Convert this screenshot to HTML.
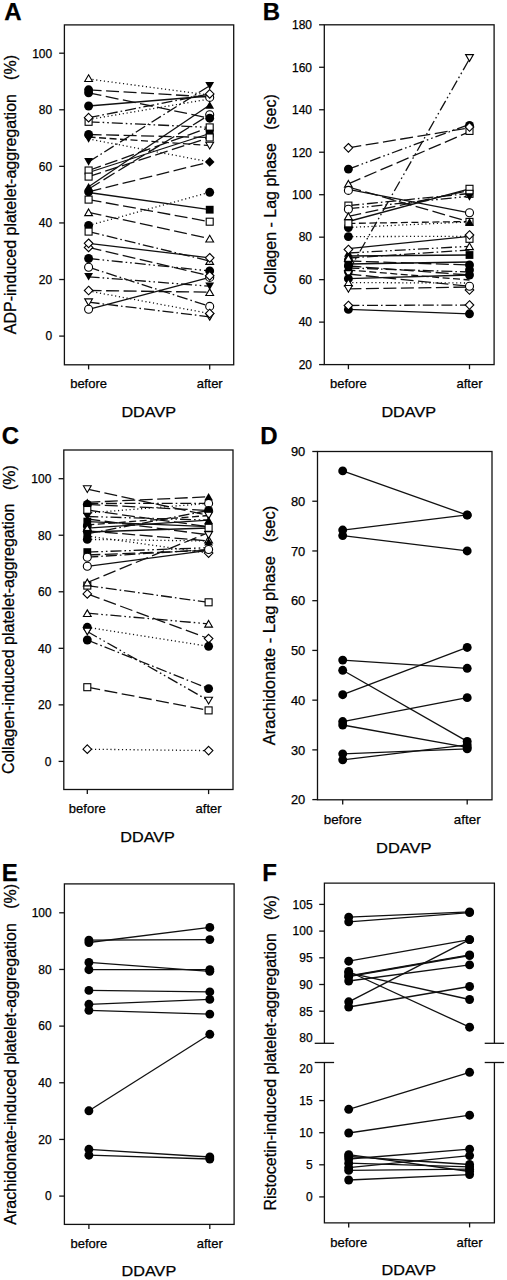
<!DOCTYPE html><html><head><meta charset="utf-8"><style>html,body{margin:0;padding:0;background:#fff;}svg{display:block;}text{font-family:"Liberation Sans", sans-serif;stroke:#000;stroke-width:0.25px;}</style></head><body>
<svg width="507" height="1280" viewBox="0 0 507 1280" fill="#000">
<rect x="64.4" y="24.9" width="169.30" height="339.90" fill="none" stroke="#111" stroke-width="1.3"/>
<line x1="59.20" y1="336.10" x2="64.40" y2="336.10" stroke="#111" stroke-width="1.3"/>
<text x="52.20" y="340.40" font-size="12" text-anchor="end" font-weight="normal">0</text>
<line x1="59.20" y1="279.52" x2="64.40" y2="279.52" stroke="#111" stroke-width="1.3"/>
<text x="52.20" y="283.82" font-size="12" text-anchor="end" font-weight="normal">20</text>
<line x1="59.20" y1="222.94" x2="64.40" y2="222.94" stroke="#111" stroke-width="1.3"/>
<text x="52.20" y="227.24" font-size="12" text-anchor="end" font-weight="normal">40</text>
<line x1="59.20" y1="166.36" x2="64.40" y2="166.36" stroke="#111" stroke-width="1.3"/>
<text x="52.20" y="170.66" font-size="12" text-anchor="end" font-weight="normal">60</text>
<line x1="59.20" y1="109.78" x2="64.40" y2="109.78" stroke="#111" stroke-width="1.3"/>
<text x="52.20" y="114.08" font-size="12" text-anchor="end" font-weight="normal">80</text>
<line x1="59.20" y1="53.20" x2="64.40" y2="53.20" stroke="#111" stroke-width="1.3"/>
<text x="52.20" y="57.50" font-size="12" text-anchor="end" font-weight="normal">100</text>
<line x1="88.60" y1="364.80" x2="88.60" y2="369.40" stroke="#111" stroke-width="1.3"/>
<text x="88.60" y="388.20" font-size="13" text-anchor="middle" font-weight="normal">before</text>
<line x1="209.70" y1="364.80" x2="209.70" y2="369.40" stroke="#111" stroke-width="1.3"/>
<text x="209.70" y="388.20" font-size="13" text-anchor="middle" font-weight="normal">after</text>
<line x1="88.60" y1="79.00" x2="209.70" y2="95.10" stroke="#111" stroke-width="1.3" stroke-dasharray="1.15 2.7"/>
<line x1="88.60" y1="89.80" x2="209.70" y2="97.00" stroke="#111" stroke-width="1.3" stroke-dasharray="13 4.5"/>
<line x1="88.60" y1="92.80" x2="209.70" y2="118.20" stroke="#111" stroke-width="1.3" stroke-dasharray="13 4.5"/>
<line x1="88.60" y1="106.00" x2="209.70" y2="96.00" stroke="#111" stroke-width="1.3"/>
<line x1="88.60" y1="117.70" x2="209.70" y2="93.90" stroke="#111" stroke-width="1.3" stroke-dasharray="11 3 1.6 3"/>
<line x1="88.60" y1="119.50" x2="209.70" y2="99.00" stroke="#111" stroke-width="1.3" stroke-dasharray="1.15 2.7"/>
<line x1="88.60" y1="121.80" x2="209.70" y2="127.40" stroke="#111" stroke-width="1.3" stroke-dasharray="11 3 1.6 3 1.6 3"/>
<line x1="88.60" y1="134.50" x2="209.70" y2="137.50" stroke="#111" stroke-width="1.3" stroke-dasharray="13 4.5"/>
<line x1="88.60" y1="137.00" x2="209.70" y2="145.60" stroke="#111" stroke-width="1.3" stroke-dasharray="7 3.5"/>
<line x1="88.60" y1="139.00" x2="209.70" y2="161.90" stroke="#111" stroke-width="1.3" stroke-dasharray="1.15 2.7"/>
<line x1="88.60" y1="161.90" x2="209.70" y2="85.70" stroke="#111" stroke-width="1.3" stroke-dasharray="11 3 1.6 3"/>
<line x1="88.60" y1="170.50" x2="209.70" y2="127.40" stroke="#111" stroke-width="1.3" stroke-dasharray="13 4.5"/>
<line x1="88.60" y1="172.50" x2="209.70" y2="133.50" stroke="#111" stroke-width="1.3"/>
<line x1="88.60" y1="176.60" x2="209.70" y2="137.50" stroke="#111" stroke-width="1.3" stroke-dasharray="13 4.5"/>
<line x1="88.60" y1="186.80" x2="209.70" y2="105.00" stroke="#111" stroke-width="1.3"/>
<line x1="88.60" y1="189.00" x2="209.70" y2="114.70" stroke="#111" stroke-width="1.3" stroke-dasharray="13 4.5"/>
<line x1="88.60" y1="191.80" x2="209.70" y2="161.90" stroke="#111" stroke-width="1.3" stroke-dasharray="13 4.5"/>
<line x1="88.60" y1="192.50" x2="209.70" y2="209.70" stroke="#111" stroke-width="1.3"/>
<line x1="88.60" y1="199.60" x2="209.70" y2="221.70" stroke="#111" stroke-width="1.3" stroke-dasharray="13 4.5"/>
<line x1="88.60" y1="212.30" x2="209.70" y2="238.60" stroke="#111" stroke-width="1.3" stroke-dasharray="13 4.5"/>
<line x1="88.60" y1="225.50" x2="209.70" y2="192.30" stroke="#111" stroke-width="1.3" stroke-dasharray="1.15 2.7"/>
<line x1="88.60" y1="231.60" x2="209.70" y2="261.00" stroke="#111" stroke-width="1.3" stroke-dasharray="11 3 1.6 3"/>
<line x1="88.60" y1="243.30" x2="209.70" y2="257.80" stroke="#111" stroke-width="1.3"/>
<line x1="88.60" y1="247.40" x2="209.70" y2="275.80" stroke="#111" stroke-width="1.3" stroke-dasharray="13 4.5"/>
<line x1="88.60" y1="258.50" x2="209.70" y2="270.90" stroke="#111" stroke-width="1.3" stroke-dasharray="11 3 1.6 3 1.6 3"/>
<line x1="88.60" y1="267.20" x2="209.70" y2="306.40" stroke="#111" stroke-width="1.3" stroke-dasharray="11 3 1.6 3"/>
<line x1="88.60" y1="276.80" x2="209.70" y2="286.20" stroke="#111" stroke-width="1.3" stroke-dasharray="11 3 1.6 3 1.6 3"/>
<line x1="88.60" y1="290.50" x2="209.70" y2="292.20" stroke="#111" stroke-width="1.3" stroke-dasharray="13 4.5"/>
<line x1="88.60" y1="291.00" x2="209.70" y2="313.50" stroke="#111" stroke-width="1.3" stroke-dasharray="1.15 2.7"/>
<line x1="88.60" y1="302.20" x2="209.70" y2="316.80" stroke="#111" stroke-width="1.3" stroke-dasharray="11 3 1.6 3"/>
<line x1="88.60" y1="309.30" x2="209.70" y2="277.40" stroke="#111" stroke-width="1.3"/>
<polygon points="88.60,74.75 92.50,81.45 84.70,81.45" fill="#fff" stroke="#000" stroke-width="1.1" stroke-linejoin="miter"/>
<circle cx="88.60" cy="89.80" r="4.45" fill="#000" stroke="#000" stroke-width="0"/>
<circle cx="88.60" cy="92.80" r="4.45" fill="#000" stroke="#000" stroke-width="0"/>
<circle cx="88.60" cy="106.00" r="4.45" fill="#000" stroke="#000" stroke-width="0"/>
<rect x="85.10" y="118.30" width="7.00" height="7.00" fill="#fff" stroke="#000" stroke-width="1.1"/>
<polygon points="88.60,113.40 92.90,117.70 88.60,122.00 84.30,117.70" fill="#fff" stroke="#000" stroke-width="1.1"/>
<polygon points="88.60,142.80 93.00,135.20 84.20,135.20" fill="#000" stroke="#000" stroke-width="0" stroke-linejoin="miter"/>
<circle cx="88.60" cy="134.50" r="4.45" fill="#000" stroke="#000" stroke-width="0"/>
<polygon points="88.60,165.70 93.00,158.10 84.20,158.10" fill="#000" stroke="#000" stroke-width="0" stroke-linejoin="miter"/>
<rect x="85.10" y="167.00" width="7.00" height="7.00" fill="#fff" stroke="#000" stroke-width="1.1"/>
<rect x="85.10" y="173.10" width="7.00" height="7.00" fill="#fff" stroke="#000" stroke-width="1.1"/>
<polygon points="88.60,183.00 93.00,190.60 84.20,190.60" fill="#000" stroke="#000" stroke-width="0" stroke-linejoin="miter"/>
<circle cx="88.60" cy="191.80" r="4.45" fill="#000" stroke="#000" stroke-width="0"/>
<rect x="85.10" y="196.10" width="7.00" height="7.00" fill="#fff" stroke="#000" stroke-width="1.1"/>
<polygon points="88.60,208.95 92.50,215.65 84.70,215.65" fill="#fff" stroke="#000" stroke-width="1.1" stroke-linejoin="miter"/>
<circle cx="88.60" cy="225.50" r="4.45" fill="#000" stroke="#000" stroke-width="0"/>
<rect x="85.10" y="228.10" width="7.00" height="7.00" fill="#fff" stroke="#000" stroke-width="1.1"/>
<polygon points="88.60,243.10 92.90,247.40 88.60,251.70 84.30,247.40" fill="#fff" stroke="#000" stroke-width="1.1"/>
<polygon points="88.60,239.00 92.90,243.30 88.60,247.60 84.30,243.30" fill="#fff" stroke="#000" stroke-width="1.1"/>
<circle cx="88.60" cy="258.50" r="4.45" fill="#000" stroke="#000" stroke-width="0"/>
<circle cx="88.60" cy="267.20" r="4.00" fill="#fff" stroke="#000" stroke-width="1.1"/>
<polygon points="88.60,280.60 93.00,273.00 84.20,273.00" fill="#000" stroke="#000" stroke-width="0" stroke-linejoin="miter"/>
<polygon points="88.60,286.20 92.90,290.50 88.60,294.80 84.30,290.50" fill="#fff" stroke="#000" stroke-width="1.1"/>
<polygon points="88.60,305.55 92.50,298.85 84.70,298.85" fill="#fff" stroke="#000" stroke-width="1.1" stroke-linejoin="miter"/>
<circle cx="88.60" cy="309.30" r="4.00" fill="#fff" stroke="#000" stroke-width="1.1"/>
<polygon points="209.70,89.50 214.10,81.90 205.30,81.90" fill="#000" stroke="#000" stroke-width="0" stroke-linejoin="miter"/>
<circle cx="209.70" cy="97.40" r="4.00" fill="#fff" stroke="#000" stroke-width="1.1"/>
<polygon points="209.70,89.60 214.00,93.90 209.70,98.20 205.40,93.90" fill="#fff" stroke="#000" stroke-width="1.1"/>
<polygon points="209.70,101.20 214.10,108.80 205.30,108.80" fill="#000" stroke="#000" stroke-width="0" stroke-linejoin="miter"/>
<circle cx="209.70" cy="114.70" r="4.00" fill="#fff" stroke="#000" stroke-width="1.1"/>
<circle cx="209.70" cy="118.20" r="4.45" fill="#000" stroke="#000" stroke-width="0"/>
<rect x="206.20" y="123.90" width="7.00" height="7.00" fill="#fff" stroke="#000" stroke-width="1.1"/>
<rect x="205.80" y="129.60" width="7.80" height="7.80" fill="#000" stroke="#000" stroke-width="0"/>
<rect x="206.20" y="134.00" width="7.00" height="7.00" fill="#fff" stroke="#000" stroke-width="1.1"/>
<polygon points="209.70,148.95 213.60,142.25 205.80,142.25" fill="#fff" stroke="#000" stroke-width="1.1" stroke-linejoin="miter"/>
<polygon points="209.70,157.10 214.50,161.90 209.70,166.70 204.90,161.90" fill="#000" stroke="#000" stroke-width="0"/>
<circle cx="209.70" cy="192.30" r="4.45" fill="#000" stroke="#000" stroke-width="0"/>
<rect x="205.80" y="205.80" width="7.80" height="7.80" fill="#000" stroke="#000" stroke-width="0"/>
<rect x="206.20" y="218.20" width="7.00" height="7.00" fill="#fff" stroke="#000" stroke-width="1.1"/>
<polygon points="209.70,235.25 213.60,241.95 205.80,241.95" fill="#fff" stroke="#000" stroke-width="1.1" stroke-linejoin="miter"/>
<polygon points="209.70,257.65 213.60,264.35 205.80,264.35" fill="#fff" stroke="#000" stroke-width="1.1" stroke-linejoin="miter"/>
<polygon points="209.70,253.50 214.00,257.80 209.70,262.10 205.40,257.80" fill="#fff" stroke="#000" stroke-width="1.1"/>
<circle cx="209.70" cy="277.40" r="4.00" fill="#fff" stroke="#000" stroke-width="1.1"/>
<circle cx="209.70" cy="270.90" r="4.45" fill="#000" stroke="#000" stroke-width="0"/>
<polygon points="209.70,271.50 214.00,275.80 209.70,280.10 205.40,275.80" fill="#fff" stroke="#000" stroke-width="1.1"/>
<polygon points="209.70,290.00 214.10,282.40 205.30,282.40" fill="#000" stroke="#000" stroke-width="0" stroke-linejoin="miter"/>
<polygon points="209.70,288.85 213.60,295.55 205.80,295.55" fill="#fff" stroke="#000" stroke-width="1.1" stroke-linejoin="miter"/>
<circle cx="209.70" cy="306.40" r="4.00" fill="#fff" stroke="#000" stroke-width="1.1"/>
<polygon points="209.70,320.15 213.60,313.45 205.80,313.45" fill="#fff" stroke="#000" stroke-width="1.1" stroke-linejoin="miter"/>
<polygon points="209.70,309.20 214.00,313.50 209.70,317.80 205.40,313.50" fill="#fff" stroke="#000" stroke-width="1.1"/>
<rect x="324.3" y="24.8" width="169.80" height="339.80" fill="none" stroke="#111" stroke-width="1.3"/>
<line x1="319.10" y1="364.59" x2="324.30" y2="364.59" stroke="#111" stroke-width="1.3"/>
<text x="312.00" y="368.89" font-size="12" text-anchor="end" font-weight="normal">20</text>
<line x1="319.10" y1="322.12" x2="324.30" y2="322.12" stroke="#111" stroke-width="1.3"/>
<text x="312.00" y="326.41" font-size="12" text-anchor="end" font-weight="normal">40</text>
<line x1="319.10" y1="279.64" x2="324.30" y2="279.64" stroke="#111" stroke-width="1.3"/>
<text x="312.00" y="283.94" font-size="12" text-anchor="end" font-weight="normal">60</text>
<line x1="319.10" y1="237.17" x2="324.30" y2="237.17" stroke="#111" stroke-width="1.3"/>
<text x="312.00" y="241.47" font-size="12" text-anchor="end" font-weight="normal">80</text>
<line x1="319.10" y1="194.70" x2="324.30" y2="194.70" stroke="#111" stroke-width="1.3"/>
<text x="312.00" y="198.99" font-size="12" text-anchor="end" font-weight="normal">100</text>
<line x1="319.10" y1="152.22" x2="324.30" y2="152.22" stroke="#111" stroke-width="1.3"/>
<text x="312.00" y="156.52" font-size="12" text-anchor="end" font-weight="normal">120</text>
<line x1="319.10" y1="109.75" x2="324.30" y2="109.75" stroke="#111" stroke-width="1.3"/>
<text x="312.00" y="114.04" font-size="12" text-anchor="end" font-weight="normal">140</text>
<line x1="319.10" y1="67.27" x2="324.30" y2="67.27" stroke="#111" stroke-width="1.3"/>
<text x="312.00" y="71.57" font-size="12" text-anchor="end" font-weight="normal">160</text>
<line x1="319.10" y1="24.80" x2="324.30" y2="24.80" stroke="#111" stroke-width="1.3"/>
<text x="312.00" y="29.10" font-size="12" text-anchor="end" font-weight="normal">180</text>
<line x1="348.40" y1="364.60" x2="348.40" y2="369.20" stroke="#111" stroke-width="1.3"/>
<text x="348.40" y="388.30" font-size="13" text-anchor="middle" font-weight="normal">before</text>
<line x1="469.50" y1="364.60" x2="469.50" y2="369.20" stroke="#111" stroke-width="1.3"/>
<text x="469.50" y="388.30" font-size="13" text-anchor="middle" font-weight="normal">after</text>
<line x1="348.40" y1="147.80" x2="469.50" y2="127.80" stroke="#111" stroke-width="1.3" stroke-dasharray="13 4.5"/>
<line x1="348.40" y1="169.10" x2="469.50" y2="124.30" stroke="#111" stroke-width="1.3" stroke-dasharray="11 3 1.6 3 1.6 3"/>
<line x1="348.40" y1="183.80" x2="469.50" y2="131.70" stroke="#111" stroke-width="1.3" stroke-dasharray="13 4.5"/>
<line x1="348.40" y1="189.30" x2="469.50" y2="212.80" stroke="#111" stroke-width="1.3"/>
<line x1="348.40" y1="187.00" x2="469.50" y2="221.90" stroke="#111" stroke-width="1.3" stroke-dasharray="13 4.5"/>
<line x1="348.40" y1="205.60" x2="469.50" y2="193.50" stroke="#111" stroke-width="1.3" stroke-dasharray="11 3 1.6 3"/>
<line x1="348.40" y1="208.70" x2="469.50" y2="196.20" stroke="#111" stroke-width="1.3" stroke-dasharray="11 3 1.6 3 1.6 3"/>
<line x1="348.40" y1="216.30" x2="469.50" y2="190.50" stroke="#111" stroke-width="1.3" stroke-dasharray="13 4.5"/>
<line x1="348.40" y1="221.50" x2="469.50" y2="188.80" stroke="#111" stroke-width="1.3"/>
<line x1="348.40" y1="223.40" x2="469.50" y2="221.50" stroke="#111" stroke-width="1.3" stroke-dasharray="7 3.5"/>
<line x1="348.40" y1="227.50" x2="469.50" y2="221.90" stroke="#111" stroke-width="1.3" stroke-dasharray="1.15 2.7"/>
<line x1="348.40" y1="236.60" x2="469.50" y2="236.30" stroke="#111" stroke-width="1.3" stroke-dasharray="1.15 2.7"/>
<line x1="348.40" y1="271.70" x2="469.50" y2="58.90" stroke="#111" stroke-width="1.3" stroke-dasharray="11 3 1.6 3 1.6 3"/>
<line x1="348.40" y1="248.70" x2="469.50" y2="236.30" stroke="#111" stroke-width="1.3"/>
<line x1="348.40" y1="253.00" x2="469.50" y2="246.30" stroke="#111" stroke-width="1.3" stroke-dasharray="11 3 1.6 3 1.6 3"/>
<line x1="348.40" y1="256.00" x2="469.50" y2="255.00" stroke="#111" stroke-width="1.3"/>
<line x1="348.40" y1="258.00" x2="469.50" y2="250.00" stroke="#111" stroke-width="1.3" stroke-dasharray="11 3 1.6 3"/>
<line x1="348.40" y1="261.00" x2="469.50" y2="265.00" stroke="#111" stroke-width="1.3" stroke-dasharray="13 4.5"/>
<line x1="348.40" y1="264.00" x2="469.50" y2="262.00" stroke="#111" stroke-width="1.3"/>
<line x1="348.40" y1="266.00" x2="469.50" y2="275.00" stroke="#111" stroke-width="1.3" stroke-dasharray="13 4.5"/>
<line x1="348.40" y1="268.00" x2="469.50" y2="272.00" stroke="#111" stroke-width="1.3" stroke-dasharray="11 3 1.6 3"/>
<line x1="348.40" y1="270.00" x2="469.50" y2="280.00" stroke="#111" stroke-width="1.3" stroke-dasharray="7 3.5"/>
<line x1="348.40" y1="274.00" x2="469.50" y2="286.30" stroke="#111" stroke-width="1.3" stroke-dasharray="13 4.5"/>
<line x1="348.40" y1="278.70" x2="469.50" y2="275.00" stroke="#111" stroke-width="1.3"/>
<line x1="348.40" y1="282.60" x2="469.50" y2="283.00" stroke="#111" stroke-width="1.3" stroke-dasharray="1.15 2.7"/>
<line x1="348.40" y1="288.90" x2="469.50" y2="287.00" stroke="#111" stroke-width="1.3" stroke-dasharray="13 4.5"/>
<line x1="348.40" y1="305.50" x2="469.50" y2="305.00" stroke="#111" stroke-width="1.3" stroke-dasharray="11 3 1.6 3"/>
<line x1="348.40" y1="309.40" x2="469.50" y2="313.80" stroke="#111" stroke-width="1.3"/>
<polygon points="348.40,143.50 352.70,147.80 348.40,152.10 344.10,147.80" fill="#fff" stroke="#000" stroke-width="1.1"/>
<circle cx="348.40" cy="169.10" r="4.45" fill="#000" stroke="#000" stroke-width="0"/>
<polygon points="348.40,180.45 352.30,187.15 344.50,187.15" fill="#fff" stroke="#000" stroke-width="1.1" stroke-linejoin="miter"/>
<circle cx="348.40" cy="190.40" r="4.00" fill="#fff" stroke="#000" stroke-width="1.1"/>
<rect x="344.90" y="202.10" width="7.00" height="7.00" fill="#fff" stroke="#000" stroke-width="1.1"/>
<circle cx="348.40" cy="209.20" r="4.00" fill="#fff" stroke="#000" stroke-width="1.1"/>
<polygon points="348.40,212.95 352.30,219.65 344.50,219.65" fill="#fff" stroke="#000" stroke-width="1.1" stroke-linejoin="miter"/>
<circle cx="348.40" cy="227.50" r="4.45" fill="#000" stroke="#000" stroke-width="0"/>
<rect x="344.90" y="219.90" width="7.00" height="7.00" fill="#fff" stroke="#000" stroke-width="1.1"/>
<circle cx="348.40" cy="236.60" r="4.45" fill="#000" stroke="#000" stroke-width="0"/>
<polygon points="348.40,249.20 352.80,256.80 344.00,256.80" fill="#000" stroke="#000" stroke-width="0" stroke-linejoin="miter"/>
<polygon points="348.40,245.20 352.70,249.50 348.40,253.80 344.10,249.50" fill="#fff" stroke="#000" stroke-width="1.1"/>
<circle cx="348.40" cy="260.00" r="4.45" fill="#000" stroke="#000" stroke-width="0"/>
<rect x="344.50" y="259.10" width="7.80" height="7.80" fill="#000" stroke="#000" stroke-width="0"/>
<polygon points="348.40,254.65 352.30,261.35 344.50,261.35" fill="#fff" stroke="#000" stroke-width="1.1" stroke-linejoin="miter"/>
<circle cx="348.40" cy="266.00" r="4.45" fill="#000" stroke="#000" stroke-width="0"/>
<polygon points="348.40,272.80 352.80,265.20 344.00,265.20" fill="#000" stroke="#000" stroke-width="0" stroke-linejoin="miter"/>
<circle cx="348.40" cy="271.60" r="4.45" fill="#000" stroke="#000" stroke-width="0"/>
<polygon points="348.40,277.35 352.30,270.65 344.50,270.65" fill="#fff" stroke="#000" stroke-width="1.1" stroke-linejoin="miter"/>
<circle cx="348.40" cy="278.70" r="4.45" fill="#000" stroke="#000" stroke-width="0"/>
<polygon points="348.40,279.25 352.30,285.95 344.50,285.95" fill="#fff" stroke="#000" stroke-width="1.1" stroke-linejoin="miter"/>
<polygon points="348.40,292.25 352.30,285.55 344.50,285.55" fill="#fff" stroke="#000" stroke-width="1.1" stroke-linejoin="miter"/>
<circle cx="348.40" cy="309.40" r="4.45" fill="#000" stroke="#000" stroke-width="0"/>
<polygon points="348.40,301.20 352.70,305.50 348.40,309.80 344.10,305.50" fill="#fff" stroke="#000" stroke-width="1.1"/>
<polygon points="469.50,61.35 473.40,54.65 465.60,54.65" fill="#fff" stroke="#000" stroke-width="1.1" stroke-linejoin="miter"/>
<circle cx="469.50" cy="125.40" r="4.45" fill="#000" stroke="#000" stroke-width="0"/>
<rect x="466.00" y="127.40" width="7.00" height="7.00" fill="#fff" stroke="#000" stroke-width="1.1"/>
<polygon points="469.50,122.70 473.80,127.00 469.50,131.30 465.20,127.00" fill="#fff" stroke="#000" stroke-width="1.1"/>
<rect x="466.00" y="185.30" width="7.00" height="7.00" fill="#fff" stroke="#000" stroke-width="1.1"/>
<rect x="466.00" y="190.30" width="7.00" height="7.00" fill="#fff" stroke="#000" stroke-width="1.1"/>
<polygon points="469.50,200.80 473.90,193.20 465.10,193.20" fill="#000" stroke="#000" stroke-width="0" stroke-linejoin="miter"/>
<circle cx="469.50" cy="212.80" r="4.00" fill="#fff" stroke="#000" stroke-width="1.1"/>
<rect x="466.00" y="218.40" width="7.00" height="7.00" fill="#fff" stroke="#000" stroke-width="1.1"/>
<polygon points="469.50,218.10 473.90,225.70 465.10,225.70" fill="#000" stroke="#000" stroke-width="0" stroke-linejoin="miter"/>
<rect x="466.00" y="235.30" width="7.00" height="7.00" fill="#fff" stroke="#000" stroke-width="1.1"/>
<polygon points="469.50,230.70 473.80,235.00 469.50,239.30 465.20,235.00" fill="#fff" stroke="#000" stroke-width="1.1"/>
<polygon points="469.50,242.95 473.40,249.65 465.60,249.65" fill="#fff" stroke="#000" stroke-width="1.1" stroke-linejoin="miter"/>
<rect x="465.60" y="251.10" width="7.80" height="7.80" fill="#000" stroke="#000" stroke-width="0"/>
<circle cx="469.50" cy="265.00" r="4.45" fill="#000" stroke="#000" stroke-width="0"/>
<circle cx="469.50" cy="270.00" r="4.45" fill="#000" stroke="#000" stroke-width="0"/>
<circle cx="469.50" cy="275.00" r="4.45" fill="#000" stroke="#000" stroke-width="0"/>
<polygon points="469.50,285.70 473.80,290.00 469.50,294.30 465.20,290.00" fill="#fff" stroke="#000" stroke-width="1.1"/>
<circle cx="469.50" cy="286.30" r="4.00" fill="#fff" stroke="#000" stroke-width="1.1"/>
<circle cx="469.50" cy="313.80" r="4.45" fill="#000" stroke="#000" stroke-width="0"/>
<polygon points="469.50,300.70 473.80,305.00 469.50,309.30 465.20,305.00" fill="#fff" stroke="#000" stroke-width="1.1"/>
<rect x="63.8" y="450.0" width="169.20" height="339.50" fill="none" stroke="#111" stroke-width="1.3"/>
<line x1="58.60" y1="761.40" x2="63.80" y2="761.40" stroke="#111" stroke-width="1.3"/>
<text x="51.40" y="765.70" font-size="12" text-anchor="end" font-weight="normal">0</text>
<line x1="58.60" y1="704.86" x2="63.80" y2="704.86" stroke="#111" stroke-width="1.3"/>
<text x="51.40" y="709.16" font-size="12" text-anchor="end" font-weight="normal">20</text>
<line x1="58.60" y1="648.32" x2="63.80" y2="648.32" stroke="#111" stroke-width="1.3"/>
<text x="51.40" y="652.62" font-size="12" text-anchor="end" font-weight="normal">40</text>
<line x1="58.60" y1="591.78" x2="63.80" y2="591.78" stroke="#111" stroke-width="1.3"/>
<text x="51.40" y="596.08" font-size="12" text-anchor="end" font-weight="normal">60</text>
<line x1="58.60" y1="535.24" x2="63.80" y2="535.24" stroke="#111" stroke-width="1.3"/>
<text x="51.40" y="539.54" font-size="12" text-anchor="end" font-weight="normal">80</text>
<line x1="58.60" y1="478.70" x2="63.80" y2="478.70" stroke="#111" stroke-width="1.3"/>
<text x="51.40" y="483.00" font-size="12" text-anchor="end" font-weight="normal">100</text>
<line x1="87.30" y1="789.50" x2="87.30" y2="794.10" stroke="#111" stroke-width="1.3"/>
<text x="87.30" y="813.30" font-size="13" text-anchor="middle" font-weight="normal">before</text>
<line x1="208.60" y1="789.50" x2="208.60" y2="794.10" stroke="#111" stroke-width="1.3"/>
<text x="208.60" y="813.30" font-size="13" text-anchor="middle" font-weight="normal">after</text>
<line x1="87.30" y1="489.10" x2="208.60" y2="515.50" stroke="#111" stroke-width="1.3" stroke-dasharray="13 4.5"/>
<line x1="87.30" y1="502.30" x2="208.60" y2="496.80" stroke="#111" stroke-width="1.3" stroke-dasharray="13 4.5"/>
<line x1="87.30" y1="503.50" x2="208.60" y2="503.40" stroke="#111" stroke-width="1.3" stroke-dasharray="11 3 1.6 3"/>
<line x1="87.30" y1="504.40" x2="208.60" y2="510.50" stroke="#111" stroke-width="1.3" stroke-dasharray="13 4.5"/>
<line x1="87.30" y1="510.00" x2="208.60" y2="526.70" stroke="#111" stroke-width="1.3" stroke-dasharray="13 4.5"/>
<line x1="87.30" y1="513.00" x2="208.60" y2="503.40" stroke="#111" stroke-width="1.3" stroke-dasharray="1.15 2.7"/>
<line x1="87.30" y1="516.50" x2="208.60" y2="520.10" stroke="#111" stroke-width="1.3" stroke-dasharray="11 3 1.6 3 1.6 3"/>
<line x1="87.30" y1="519.00" x2="208.60" y2="534.80" stroke="#111" stroke-width="1.3" stroke-dasharray="13 4.5"/>
<line x1="87.30" y1="521.60" x2="208.60" y2="526.70" stroke="#111" stroke-width="1.3"/>
<line x1="87.30" y1="525.00" x2="208.60" y2="515.50" stroke="#111" stroke-width="1.3" stroke-dasharray="7 3.5"/>
<line x1="87.30" y1="528.20" x2="208.60" y2="520.10" stroke="#111" stroke-width="1.3"/>
<line x1="87.30" y1="530.80" x2="208.60" y2="540.90" stroke="#111" stroke-width="1.3" stroke-dasharray="13 4.5"/>
<line x1="87.30" y1="532.00" x2="208.60" y2="528.00" stroke="#111" stroke-width="1.3"/>
<line x1="87.30" y1="533.80" x2="208.60" y2="510.50" stroke="#111" stroke-width="1.3" stroke-dasharray="11 3 1.6 3"/>
<line x1="87.30" y1="536.00" x2="208.60" y2="553.10" stroke="#111" stroke-width="1.3" stroke-dasharray="1.15 2.7"/>
<line x1="87.30" y1="539.40" x2="208.60" y2="541.00" stroke="#111" stroke-width="1.3" stroke-dasharray="1.15 2.7"/>
<line x1="87.30" y1="552.10" x2="208.60" y2="547.70" stroke="#111" stroke-width="1.3" stroke-dasharray="11 3 1.6 3 1.6 3"/>
<line x1="87.30" y1="555.00" x2="208.60" y2="550.40" stroke="#111" stroke-width="1.3" stroke-dasharray="13 4.5"/>
<line x1="87.30" y1="557.20" x2="208.60" y2="549.50" stroke="#111" stroke-width="1.3" stroke-dasharray="11 3 1.6 3"/>
<line x1="87.30" y1="566.30" x2="208.60" y2="550.40" stroke="#111" stroke-width="1.3"/>
<line x1="87.30" y1="582.50" x2="208.60" y2="532.50" stroke="#111" stroke-width="1.3" stroke-dasharray="13 4.5"/>
<line x1="87.30" y1="585.60" x2="208.60" y2="602.30" stroke="#111" stroke-width="1.3" stroke-dasharray="11 3 1.6 3"/>
<line x1="87.30" y1="593.90" x2="208.60" y2="638.60" stroke="#111" stroke-width="1.3" stroke-dasharray="13 4.5"/>
<line x1="87.30" y1="613.20" x2="208.60" y2="623.80" stroke="#111" stroke-width="1.3" stroke-dasharray="11 3 1.6 3 1.6 3"/>
<line x1="87.30" y1="627.30" x2="208.60" y2="646.30" stroke="#111" stroke-width="1.3" stroke-dasharray="1.15 2.7"/>
<line x1="87.30" y1="631.50" x2="208.60" y2="700.60" stroke="#111" stroke-width="1.3" stroke-dasharray="11 3 1.6 3 1.6 3"/>
<line x1="87.30" y1="640.00" x2="208.60" y2="688.60" stroke="#111" stroke-width="1.3" stroke-dasharray="11 3 1.6 3"/>
<line x1="87.30" y1="687.20" x2="208.60" y2="710.40" stroke="#111" stroke-width="1.3" stroke-dasharray="13 4.5"/>
<line x1="87.30" y1="749.20" x2="208.60" y2="750.60" stroke="#111" stroke-width="1.3" stroke-dasharray="1.15 2.7"/>
<polygon points="87.30,492.45 91.20,485.75 83.40,485.75" fill="#fff" stroke="#000" stroke-width="1.1" stroke-linejoin="miter"/>
<polygon points="87.30,498.50 91.70,506.10 82.90,506.10" fill="#000" stroke="#000" stroke-width="0" stroke-linejoin="miter"/>
<circle cx="87.30" cy="504.40" r="4.45" fill="#000" stroke="#000" stroke-width="0"/>
<rect x="83.80" y="506.50" width="7.00" height="7.00" fill="#fff" stroke="#000" stroke-width="1.1"/>
<polygon points="87.30,520.30 91.70,512.70 82.90,512.70" fill="#000" stroke="#000" stroke-width="0" stroke-linejoin="miter"/>
<rect x="83.40" y="517.70" width="7.80" height="7.80" fill="#000" stroke="#000" stroke-width="0"/>
<circle cx="87.30" cy="526.00" r="4.45" fill="#000" stroke="#000" stroke-width="0"/>
<circle cx="87.30" cy="531.00" r="4.45" fill="#000" stroke="#000" stroke-width="0"/>
<polygon points="87.30,524.85 91.20,531.55 83.40,531.55" fill="#fff" stroke="#000" stroke-width="1.1" stroke-linejoin="miter"/>
<rect x="83.40" y="529.90" width="7.80" height="7.80" fill="#000" stroke="#000" stroke-width="0"/>
<circle cx="87.30" cy="539.40" r="4.45" fill="#000" stroke="#000" stroke-width="0"/>
<rect x="83.40" y="548.20" width="7.80" height="7.80" fill="#000" stroke="#000" stroke-width="0"/>
<circle cx="87.30" cy="557.20" r="4.00" fill="#fff" stroke="#000" stroke-width="1.1"/>
<circle cx="87.30" cy="566.30" r="4.00" fill="#fff" stroke="#000" stroke-width="1.1"/>
<rect x="83.80" y="582.10" width="7.00" height="7.00" fill="#fff" stroke="#000" stroke-width="1.1"/>
<polygon points="87.30,579.15 91.20,585.85 83.40,585.85" fill="#fff" stroke="#000" stroke-width="1.1" stroke-linejoin="miter"/>
<polygon points="87.30,589.60 91.60,593.90 87.30,598.20 83.00,593.90" fill="#fff" stroke="#000" stroke-width="1.1"/>
<polygon points="87.30,609.85 91.20,616.55 83.40,616.55" fill="#fff" stroke="#000" stroke-width="1.1" stroke-linejoin="miter"/>
<circle cx="87.30" cy="627.30" r="4.45" fill="#000" stroke="#000" stroke-width="0"/>
<polygon points="87.30,634.85 91.20,628.15 83.40,628.15" fill="#fff" stroke="#000" stroke-width="1.1" stroke-linejoin="miter"/>
<circle cx="87.30" cy="640.00" r="4.45" fill="#000" stroke="#000" stroke-width="0"/>
<rect x="83.80" y="683.70" width="7.00" height="7.00" fill="#fff" stroke="#000" stroke-width="1.1"/>
<polygon points="87.30,744.90 91.60,749.20 87.30,753.50 83.00,749.20" fill="#fff" stroke="#000" stroke-width="1.1"/>
<polygon points="208.60,493.00 213.00,500.60 204.20,500.60" fill="#000" stroke="#000" stroke-width="0" stroke-linejoin="miter"/>
<circle cx="208.60" cy="503.40" r="4.00" fill="#fff" stroke="#000" stroke-width="1.1"/>
<circle cx="208.60" cy="510.50" r="4.45" fill="#000" stroke="#000" stroke-width="0"/>
<polygon points="208.60,518.85 212.50,512.15 204.70,512.15" fill="#fff" stroke="#000" stroke-width="1.1" stroke-linejoin="miter"/>
<polygon points="208.60,516.30 213.00,523.90 204.20,523.90" fill="#000" stroke="#000" stroke-width="0" stroke-linejoin="miter"/>
<rect x="205.10" y="524.30" width="7.00" height="7.00" fill="#fff" stroke="#000" stroke-width="1.1"/>
<polygon points="208.60,536.15 212.50,542.85 204.70,542.85" fill="#fff" stroke="#000" stroke-width="1.1" stroke-linejoin="miter"/>
<polygon points="208.60,538.35 212.50,531.65 204.70,531.65" fill="#fff" stroke="#000" stroke-width="1.1" stroke-linejoin="miter"/>
<polygon points="208.60,538.00 213.00,545.60 204.20,545.60" fill="#000" stroke="#000" stroke-width="0" stroke-linejoin="miter"/>
<polygon points="208.60,548.80 212.90,553.10 208.60,557.40 204.30,553.10" fill="#fff" stroke="#000" stroke-width="1.1"/>
<circle cx="208.60" cy="549.50" r="4.00" fill="#fff" stroke="#000" stroke-width="1.1"/>
<rect x="205.10" y="598.80" width="7.00" height="7.00" fill="#fff" stroke="#000" stroke-width="1.1"/>
<polygon points="208.60,620.45 212.50,627.15 204.70,627.15" fill="#fff" stroke="#000" stroke-width="1.1" stroke-linejoin="miter"/>
<polygon points="208.60,634.30 212.90,638.60 208.60,642.90 204.30,638.60" fill="#fff" stroke="#000" stroke-width="1.1"/>
<circle cx="208.60" cy="646.30" r="4.45" fill="#000" stroke="#000" stroke-width="0"/>
<circle cx="208.60" cy="688.60" r="4.45" fill="#000" stroke="#000" stroke-width="0"/>
<polygon points="208.60,703.95 212.50,697.25 204.70,697.25" fill="#fff" stroke="#000" stroke-width="1.1" stroke-linejoin="miter"/>
<rect x="205.10" y="706.90" width="7.00" height="7.00" fill="#fff" stroke="#000" stroke-width="1.1"/>
<polygon points="208.60,746.30 212.90,750.60 208.60,754.90 204.30,750.60" fill="#fff" stroke="#000" stroke-width="1.1"/>
<rect x="317.5" y="451.5" width="174.50" height="348.30" fill="none" stroke="#111" stroke-width="1.3"/>
<line x1="312.30" y1="799.61" x2="317.50" y2="799.61" stroke="#111" stroke-width="1.3"/>
<text x="305.30" y="804.23" font-size="12.9" text-anchor="end" font-weight="normal">20</text>
<line x1="312.30" y1="749.88" x2="317.50" y2="749.88" stroke="#111" stroke-width="1.3"/>
<text x="305.30" y="754.50" font-size="12.9" text-anchor="end" font-weight="normal">30</text>
<line x1="312.30" y1="700.15" x2="317.50" y2="700.15" stroke="#111" stroke-width="1.3"/>
<text x="305.30" y="704.77" font-size="12.9" text-anchor="end" font-weight="normal">40</text>
<line x1="312.30" y1="650.42" x2="317.50" y2="650.42" stroke="#111" stroke-width="1.3"/>
<text x="305.30" y="655.04" font-size="12.9" text-anchor="end" font-weight="normal">50</text>
<line x1="312.30" y1="600.69" x2="317.50" y2="600.69" stroke="#111" stroke-width="1.3"/>
<text x="305.30" y="605.31" font-size="12.9" text-anchor="end" font-weight="normal">60</text>
<line x1="312.30" y1="550.96" x2="317.50" y2="550.96" stroke="#111" stroke-width="1.3"/>
<text x="305.30" y="555.58" font-size="12.9" text-anchor="end" font-weight="normal">70</text>
<line x1="312.30" y1="501.23" x2="317.50" y2="501.23" stroke="#111" stroke-width="1.3"/>
<text x="305.30" y="505.85" font-size="12.9" text-anchor="end" font-weight="normal">80</text>
<line x1="312.30" y1="451.50" x2="317.50" y2="451.50" stroke="#111" stroke-width="1.3"/>
<text x="305.30" y="456.12" font-size="12.9" text-anchor="end" font-weight="normal">90</text>
<line x1="342.70" y1="799.80" x2="342.70" y2="804.40" stroke="#111" stroke-width="1.3"/>
<text x="342.70" y="824.20" font-size="13.4" text-anchor="middle" font-weight="normal">before</text>
<line x1="467.20" y1="799.80" x2="467.20" y2="804.40" stroke="#111" stroke-width="1.3"/>
<text x="467.20" y="824.20" font-size="13.4" text-anchor="middle" font-weight="normal">after</text>
<line x1="342.70" y1="470.89" x2="467.20" y2="515.15" stroke="#111" stroke-width="1.3"/>
<line x1="342.70" y1="530.07" x2="467.20" y2="514.91" stroke="#111" stroke-width="1.3"/>
<line x1="342.70" y1="535.54" x2="467.20" y2="550.96" stroke="#111" stroke-width="1.3"/>
<line x1="342.70" y1="660.12" x2="467.20" y2="668.32" stroke="#111" stroke-width="1.3"/>
<line x1="342.70" y1="670.31" x2="467.20" y2="741.43" stroke="#111" stroke-width="1.3"/>
<line x1="342.70" y1="694.68" x2="467.20" y2="647.44" stroke="#111" stroke-width="1.3"/>
<line x1="342.70" y1="721.53" x2="467.20" y2="697.66" stroke="#111" stroke-width="1.3"/>
<line x1="342.70" y1="725.01" x2="467.20" y2="747.39" stroke="#111" stroke-width="1.3"/>
<line x1="342.70" y1="753.86" x2="467.20" y2="748.89" stroke="#111" stroke-width="1.3"/>
<line x1="342.70" y1="759.83" x2="467.20" y2="744.91" stroke="#111" stroke-width="1.3"/>
<circle cx="342.70" cy="470.89" r="4.45" fill="#000" stroke="#000" stroke-width="0"/>
<circle cx="342.70" cy="530.07" r="4.45" fill="#000" stroke="#000" stroke-width="0"/>
<circle cx="342.70" cy="535.54" r="4.45" fill="#000" stroke="#000" stroke-width="0"/>
<circle cx="342.70" cy="660.12" r="4.45" fill="#000" stroke="#000" stroke-width="0"/>
<circle cx="342.70" cy="670.31" r="4.45" fill="#000" stroke="#000" stroke-width="0"/>
<circle cx="342.70" cy="694.68" r="4.45" fill="#000" stroke="#000" stroke-width="0"/>
<circle cx="342.70" cy="721.53" r="4.45" fill="#000" stroke="#000" stroke-width="0"/>
<circle cx="342.70" cy="725.01" r="4.45" fill="#000" stroke="#000" stroke-width="0"/>
<circle cx="342.70" cy="753.86" r="4.45" fill="#000" stroke="#000" stroke-width="0"/>
<circle cx="342.70" cy="759.83" r="4.45" fill="#000" stroke="#000" stroke-width="0"/>
<circle cx="467.20" cy="515.15" r="4.45" fill="#000" stroke="#000" stroke-width="0"/>
<circle cx="467.20" cy="514.91" r="4.45" fill="#000" stroke="#000" stroke-width="0"/>
<circle cx="467.20" cy="550.96" r="4.45" fill="#000" stroke="#000" stroke-width="0"/>
<circle cx="467.20" cy="668.32" r="4.45" fill="#000" stroke="#000" stroke-width="0"/>
<circle cx="467.20" cy="741.43" r="4.45" fill="#000" stroke="#000" stroke-width="0"/>
<circle cx="467.20" cy="647.44" r="4.45" fill="#000" stroke="#000" stroke-width="0"/>
<circle cx="467.20" cy="697.66" r="4.45" fill="#000" stroke="#000" stroke-width="0"/>
<circle cx="467.20" cy="747.39" r="4.45" fill="#000" stroke="#000" stroke-width="0"/>
<circle cx="467.20" cy="748.89" r="4.45" fill="#000" stroke="#000" stroke-width="0"/>
<circle cx="467.20" cy="744.91" r="4.45" fill="#000" stroke="#000" stroke-width="0"/>
<rect x="64.4" y="883.9" width="169.70" height="340.50" fill="none" stroke="#111" stroke-width="1.3"/>
<line x1="59.20" y1="1196.10" x2="64.40" y2="1196.10" stroke="#111" stroke-width="1.3"/>
<text x="51.70" y="1200.40" font-size="12" text-anchor="end" font-weight="normal">0</text>
<line x1="59.20" y1="1139.44" x2="64.40" y2="1139.44" stroke="#111" stroke-width="1.3"/>
<text x="51.70" y="1143.74" font-size="12" text-anchor="end" font-weight="normal">20</text>
<line x1="59.20" y1="1082.78" x2="64.40" y2="1082.78" stroke="#111" stroke-width="1.3"/>
<text x="51.70" y="1087.08" font-size="12" text-anchor="end" font-weight="normal">40</text>
<line x1="59.20" y1="1026.12" x2="64.40" y2="1026.12" stroke="#111" stroke-width="1.3"/>
<text x="51.70" y="1030.42" font-size="12" text-anchor="end" font-weight="normal">60</text>
<line x1="59.20" y1="969.46" x2="64.40" y2="969.46" stroke="#111" stroke-width="1.3"/>
<text x="51.70" y="973.76" font-size="12" text-anchor="end" font-weight="normal">80</text>
<line x1="59.20" y1="912.80" x2="64.40" y2="912.80" stroke="#111" stroke-width="1.3"/>
<text x="51.70" y="917.10" font-size="12" text-anchor="end" font-weight="normal">100</text>
<line x1="88.90" y1="1224.40" x2="88.90" y2="1229.00" stroke="#111" stroke-width="1.3"/>
<text x="88.90" y="1247.90" font-size="13" text-anchor="middle" font-weight="normal">before</text>
<line x1="209.80" y1="1224.40" x2="209.80" y2="1229.00" stroke="#111" stroke-width="1.3"/>
<text x="209.80" y="1247.90" font-size="13" text-anchor="middle" font-weight="normal">after</text>
<line x1="88.90" y1="940.10" x2="209.80" y2="939.60" stroke="#111" stroke-width="1.3"/>
<line x1="88.90" y1="942.50" x2="209.80" y2="927.40" stroke="#111" stroke-width="1.3"/>
<line x1="88.90" y1="962.40" x2="209.80" y2="971.30" stroke="#111" stroke-width="1.3"/>
<line x1="88.90" y1="969.70" x2="209.80" y2="969.60" stroke="#111" stroke-width="1.3"/>
<line x1="88.90" y1="990.40" x2="209.80" y2="991.90" stroke="#111" stroke-width="1.3"/>
<line x1="88.90" y1="1004.30" x2="209.80" y2="999.40" stroke="#111" stroke-width="1.3"/>
<line x1="88.90" y1="1010.30" x2="209.80" y2="1014.10" stroke="#111" stroke-width="1.3"/>
<line x1="88.90" y1="1110.80" x2="209.80" y2="1034.30" stroke="#111" stroke-width="1.3"/>
<line x1="88.90" y1="1149.30" x2="209.80" y2="1157.00" stroke="#111" stroke-width="1.3"/>
<line x1="88.90" y1="1155.20" x2="209.80" y2="1159.00" stroke="#111" stroke-width="1.3"/>
<circle cx="88.90" cy="940.10" r="4.45" fill="#000" stroke="#000" stroke-width="0"/>
<circle cx="88.90" cy="942.50" r="4.45" fill="#000" stroke="#000" stroke-width="0"/>
<circle cx="88.90" cy="962.40" r="4.45" fill="#000" stroke="#000" stroke-width="0"/>
<circle cx="88.90" cy="969.70" r="4.45" fill="#000" stroke="#000" stroke-width="0"/>
<circle cx="88.90" cy="990.40" r="4.45" fill="#000" stroke="#000" stroke-width="0"/>
<circle cx="88.90" cy="1004.30" r="4.45" fill="#000" stroke="#000" stroke-width="0"/>
<circle cx="88.90" cy="1010.30" r="4.45" fill="#000" stroke="#000" stroke-width="0"/>
<circle cx="88.90" cy="1110.80" r="4.45" fill="#000" stroke="#000" stroke-width="0"/>
<circle cx="88.90" cy="1149.30" r="4.45" fill="#000" stroke="#000" stroke-width="0"/>
<circle cx="88.90" cy="1155.20" r="4.45" fill="#000" stroke="#000" stroke-width="0"/>
<circle cx="209.80" cy="939.60" r="4.45" fill="#000" stroke="#000" stroke-width="0"/>
<circle cx="209.80" cy="927.40" r="4.45" fill="#000" stroke="#000" stroke-width="0"/>
<circle cx="209.80" cy="971.30" r="4.45" fill="#000" stroke="#000" stroke-width="0"/>
<circle cx="209.80" cy="969.60" r="4.45" fill="#000" stroke="#000" stroke-width="0"/>
<circle cx="209.80" cy="991.90" r="4.45" fill="#000" stroke="#000" stroke-width="0"/>
<circle cx="209.80" cy="999.40" r="4.45" fill="#000" stroke="#000" stroke-width="0"/>
<circle cx="209.80" cy="1014.10" r="4.45" fill="#000" stroke="#000" stroke-width="0"/>
<circle cx="209.80" cy="1034.30" r="4.45" fill="#000" stroke="#000" stroke-width="0"/>
<circle cx="209.80" cy="1157.00" r="4.45" fill="#000" stroke="#000" stroke-width="0"/>
<circle cx="209.80" cy="1159.00" r="4.45" fill="#000" stroke="#000" stroke-width="0"/>
<path d="M324.4,1043.3 V883.2 H494.4 V1043.3 M324.4,1062.5 V1222.8 H494.4 V1062.5" fill="none" stroke="#111" stroke-width="1.3"/>
<line x1="314.70" y1="1043.30" x2="334.10" y2="1043.30" stroke="#111" stroke-width="1.3"/>
<line x1="314.70" y1="1062.50" x2="334.10" y2="1062.50" stroke="#111" stroke-width="1.3"/>
<line x1="484.70" y1="1043.30" x2="504.10" y2="1043.30" stroke="#111" stroke-width="1.3"/>
<line x1="484.70" y1="1062.50" x2="504.10" y2="1062.50" stroke="#111" stroke-width="1.3"/>
<text x="312.60" y="1042.20" font-size="12" text-anchor="end" font-weight="normal">80</text>
<line x1="319.20" y1="1011.20" x2="324.40" y2="1011.20" stroke="#111" stroke-width="1.3"/>
<text x="312.60" y="1015.50" font-size="12" text-anchor="end" font-weight="normal">85</text>
<line x1="319.20" y1="984.50" x2="324.40" y2="984.50" stroke="#111" stroke-width="1.3"/>
<text x="312.60" y="988.80" font-size="12" text-anchor="end" font-weight="normal">90</text>
<line x1="319.20" y1="957.80" x2="324.40" y2="957.80" stroke="#111" stroke-width="1.3"/>
<text x="312.60" y="962.10" font-size="12" text-anchor="end" font-weight="normal">95</text>
<line x1="319.20" y1="931.10" x2="324.40" y2="931.10" stroke="#111" stroke-width="1.3"/>
<text x="312.60" y="935.40" font-size="12" text-anchor="end" font-weight="normal">100</text>
<line x1="319.20" y1="904.40" x2="324.40" y2="904.40" stroke="#111" stroke-width="1.3"/>
<text x="312.60" y="908.70" font-size="12" text-anchor="end" font-weight="normal">105</text>
<line x1="319.20" y1="1196.90" x2="324.40" y2="1196.90" stroke="#111" stroke-width="1.3"/>
<text x="312.60" y="1201.20" font-size="12" text-anchor="end" font-weight="normal">0</text>
<line x1="319.20" y1="1164.80" x2="324.40" y2="1164.80" stroke="#111" stroke-width="1.3"/>
<text x="312.60" y="1169.10" font-size="12" text-anchor="end" font-weight="normal">5</text>
<line x1="319.20" y1="1132.70" x2="324.40" y2="1132.70" stroke="#111" stroke-width="1.3"/>
<text x="312.60" y="1137.00" font-size="12" text-anchor="end" font-weight="normal">10</text>
<line x1="319.20" y1="1100.60" x2="324.40" y2="1100.60" stroke="#111" stroke-width="1.3"/>
<text x="312.60" y="1104.90" font-size="12" text-anchor="end" font-weight="normal">15</text>
<text x="312.60" y="1072.80" font-size="12" text-anchor="end" font-weight="normal">20</text>
<line x1="348.70" y1="1222.80" x2="348.70" y2="1227.40" stroke="#111" stroke-width="1.3"/>
<text x="348.70" y="1247.00" font-size="13" text-anchor="middle" font-weight="normal">before</text>
<line x1="469.60" y1="1222.80" x2="469.60" y2="1227.40" stroke="#111" stroke-width="1.3"/>
<text x="469.60" y="1247.00" font-size="13" text-anchor="middle" font-weight="normal">after</text>
<line x1="348.70" y1="917.20" x2="469.60" y2="911.90" stroke="#111" stroke-width="1.3"/>
<line x1="348.70" y1="921.80" x2="469.60" y2="912.60" stroke="#111" stroke-width="1.3"/>
<line x1="348.70" y1="961.20" x2="469.60" y2="939.60" stroke="#111" stroke-width="1.3"/>
<line x1="348.70" y1="976.00" x2="469.60" y2="954.90" stroke="#111" stroke-width="1.3"/>
<line x1="348.70" y1="976.50" x2="469.60" y2="955.50" stroke="#111" stroke-width="1.3"/>
<line x1="348.70" y1="972.80" x2="469.60" y2="999.50" stroke="#111" stroke-width="1.3"/>
<line x1="348.70" y1="971.50" x2="469.60" y2="1027.20" stroke="#111" stroke-width="1.3"/>
<line x1="348.70" y1="981.00" x2="469.60" y2="964.90" stroke="#111" stroke-width="1.3"/>
<line x1="348.70" y1="1001.80" x2="469.60" y2="939.60" stroke="#111" stroke-width="1.3"/>
<line x1="348.70" y1="1007.00" x2="469.60" y2="986.50" stroke="#111" stroke-width="1.3"/>
<line x1="348.70" y1="1109.30" x2="469.60" y2="1072.30" stroke="#111" stroke-width="1.3"/>
<line x1="348.70" y1="1133.00" x2="469.60" y2="1115.20" stroke="#111" stroke-width="1.3"/>
<line x1="348.70" y1="1154.60" x2="469.60" y2="1171.50" stroke="#111" stroke-width="1.3"/>
<line x1="348.70" y1="1156.50" x2="469.60" y2="1164.50" stroke="#111" stroke-width="1.3"/>
<line x1="348.70" y1="1159.00" x2="469.60" y2="1149.20" stroke="#111" stroke-width="1.3"/>
<line x1="348.70" y1="1163.20" x2="469.60" y2="1166.80" stroke="#111" stroke-width="1.3"/>
<line x1="348.70" y1="1167.60" x2="469.60" y2="1155.60" stroke="#111" stroke-width="1.3"/>
<line x1="348.70" y1="1170.40" x2="469.60" y2="1169.20" stroke="#111" stroke-width="1.3"/>
<line x1="348.70" y1="1180.00" x2="469.60" y2="1174.60" stroke="#111" stroke-width="1.3"/>
<circle cx="348.70" cy="917.20" r="4.45" fill="#000" stroke="#000" stroke-width="0"/>
<circle cx="348.70" cy="921.80" r="4.45" fill="#000" stroke="#000" stroke-width="0"/>
<circle cx="348.70" cy="961.20" r="4.45" fill="#000" stroke="#000" stroke-width="0"/>
<circle cx="348.70" cy="976.00" r="4.45" fill="#000" stroke="#000" stroke-width="0"/>
<circle cx="348.70" cy="976.50" r="4.45" fill="#000" stroke="#000" stroke-width="0"/>
<circle cx="348.70" cy="972.80" r="4.45" fill="#000" stroke="#000" stroke-width="0"/>
<circle cx="348.70" cy="971.50" r="4.45" fill="#000" stroke="#000" stroke-width="0"/>
<circle cx="348.70" cy="981.00" r="4.45" fill="#000" stroke="#000" stroke-width="0"/>
<circle cx="348.70" cy="1001.80" r="4.45" fill="#000" stroke="#000" stroke-width="0"/>
<circle cx="348.70" cy="1007.00" r="4.45" fill="#000" stroke="#000" stroke-width="0"/>
<circle cx="348.70" cy="1109.30" r="4.45" fill="#000" stroke="#000" stroke-width="0"/>
<circle cx="348.70" cy="1133.00" r="4.45" fill="#000" stroke="#000" stroke-width="0"/>
<circle cx="348.70" cy="1154.60" r="4.45" fill="#000" stroke="#000" stroke-width="0"/>
<circle cx="348.70" cy="1156.50" r="4.45" fill="#000" stroke="#000" stroke-width="0"/>
<circle cx="348.70" cy="1159.00" r="4.45" fill="#000" stroke="#000" stroke-width="0"/>
<circle cx="348.70" cy="1163.20" r="4.45" fill="#000" stroke="#000" stroke-width="0"/>
<circle cx="348.70" cy="1167.60" r="4.45" fill="#000" stroke="#000" stroke-width="0"/>
<circle cx="348.70" cy="1170.40" r="4.45" fill="#000" stroke="#000" stroke-width="0"/>
<circle cx="348.70" cy="1180.00" r="4.45" fill="#000" stroke="#000" stroke-width="0"/>
<circle cx="469.60" cy="911.90" r="4.45" fill="#000" stroke="#000" stroke-width="0"/>
<circle cx="469.60" cy="912.60" r="4.45" fill="#000" stroke="#000" stroke-width="0"/>
<circle cx="469.60" cy="939.60" r="4.45" fill="#000" stroke="#000" stroke-width="0"/>
<circle cx="469.60" cy="954.90" r="4.45" fill="#000" stroke="#000" stroke-width="0"/>
<circle cx="469.60" cy="955.50" r="4.45" fill="#000" stroke="#000" stroke-width="0"/>
<circle cx="469.60" cy="999.50" r="4.45" fill="#000" stroke="#000" stroke-width="0"/>
<circle cx="469.60" cy="1027.20" r="4.45" fill="#000" stroke="#000" stroke-width="0"/>
<circle cx="469.60" cy="964.90" r="4.45" fill="#000" stroke="#000" stroke-width="0"/>
<circle cx="469.60" cy="939.60" r="4.45" fill="#000" stroke="#000" stroke-width="0"/>
<circle cx="469.60" cy="986.50" r="4.45" fill="#000" stroke="#000" stroke-width="0"/>
<circle cx="469.60" cy="1072.30" r="4.45" fill="#000" stroke="#000" stroke-width="0"/>
<circle cx="469.60" cy="1115.20" r="4.45" fill="#000" stroke="#000" stroke-width="0"/>
<circle cx="469.60" cy="1171.50" r="4.45" fill="#000" stroke="#000" stroke-width="0"/>
<circle cx="469.60" cy="1164.50" r="4.45" fill="#000" stroke="#000" stroke-width="0"/>
<circle cx="469.60" cy="1149.20" r="4.45" fill="#000" stroke="#000" stroke-width="0"/>
<circle cx="469.60" cy="1166.80" r="4.45" fill="#000" stroke="#000" stroke-width="0"/>
<circle cx="469.60" cy="1155.60" r="4.45" fill="#000" stroke="#000" stroke-width="0"/>
<circle cx="469.60" cy="1169.20" r="4.45" fill="#000" stroke="#000" stroke-width="0"/>
<circle cx="469.60" cy="1174.60" r="4.45" fill="#000" stroke="#000" stroke-width="0"/>
<text x="4.35" y="19.85" font-size="24" text-anchor="start" font-weight="bold">A</text>
<text x="262.75" y="20.00" font-size="24" text-anchor="start" font-weight="bold">B</text>
<text x="1.75" y="443.90" font-size="24" text-anchor="start" font-weight="bold">C</text>
<text x="260.30" y="444.30" font-size="24" text-anchor="start" font-weight="bold">D</text>
<text x="1.80" y="881.40" font-size="24" text-anchor="start" font-weight="bold">E</text>
<text x="262.30" y="880.70" font-size="24" text-anchor="start" font-weight="bold">F</text>
<text x="121.40" y="416.70" font-size="14.7" text-anchor="start" font-weight="normal" textLength="54.6" lengthAdjust="spacingAndGlyphs">DDAVP</text>
<text x="381.40" y="416.70" font-size="14.7" text-anchor="start" font-weight="normal" textLength="54.6" lengthAdjust="spacingAndGlyphs">DDAVP</text>
<text x="120.30" y="841.60" font-size="14.7" text-anchor="start" font-weight="normal" textLength="54.6" lengthAdjust="spacingAndGlyphs">DDAVP</text>
<text x="376.00" y="853.40" font-size="15.1" text-anchor="start" font-weight="normal" textLength="55.6" lengthAdjust="spacingAndGlyphs">DDAVP</text>
<text x="121.60" y="1275.80" font-size="14.7" text-anchor="start" font-weight="normal" textLength="54.6" lengthAdjust="spacingAndGlyphs">DDAVP</text>
<text x="381.50" y="1275.20" font-size="14.7" text-anchor="start" font-weight="normal" textLength="54.6" lengthAdjust="spacingAndGlyphs">DDAVP</text>
<text transform="translate(15.50,334.20) rotate(-90)" font-size="16">ADP-induced platelet-aggregation</text>
<text transform="translate(15.60,79.90) rotate(-90)" font-size="16">(%)</text>
<text transform="translate(276.20,295.10) rotate(-90)" font-size="16">Collagen - Lag phase</text>
<text transform="translate(276.30,129.80) rotate(-90)" font-size="16">(sec)</text>
<text transform="translate(14.20,773.90) rotate(-90)" font-size="16">Collagen-induced platelet-aggregation</text>
<text transform="translate(14.60,490.10) rotate(-90)" font-size="16">(%)</text>
<text transform="translate(274.90,745.30) rotate(-90)" font-size="16.4" textLength="189.3" lengthAdjust="spacingAndGlyphs">Arachidonate - Lag phase</text>
<text transform="translate(275.20,542.30) rotate(-90)" font-size="16.4">(sec)</text>
<text transform="translate(15.50,1224.70) rotate(-90)" font-size="16">Arachidonate-induced platelet-aggregation</text>
<text transform="translate(15.60,908.80) rotate(-90)" font-size="16">(%)</text>
<text transform="translate(275.60,1210.60) rotate(-90)" font-size="16">Ristocetin-induced platelet-aggregation</text>
<text transform="translate(275.70,920.00) rotate(-90)" font-size="16">(%)</text>
</svg></body></html>
